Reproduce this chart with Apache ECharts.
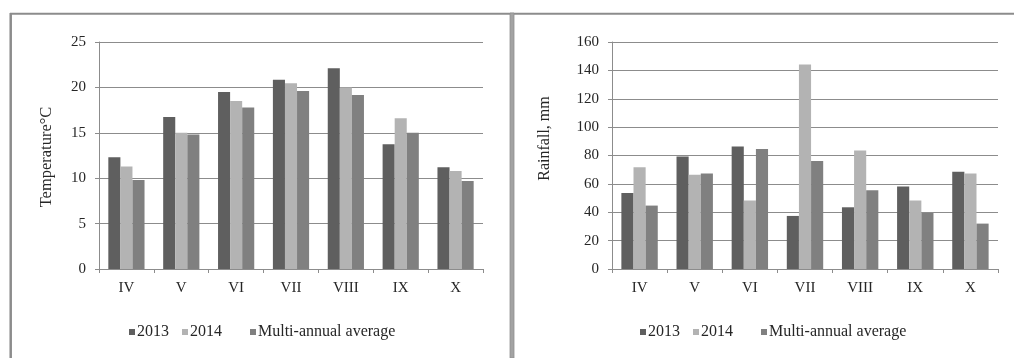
<!DOCTYPE html>
<html>
<head>
<meta charset="utf-8">
<title>Temperature and rainfall, IV–X</title>
<script src="https://cdn.jsdelivr.net/npm/echarts@6/dist/echarts.min.js"></script>
<style>
  html, body { margin: 0; padding: 0; background: #ffffff; }
  #chart { width: 1014px; height: 358px; }
</style>
</head>
<body>
<div id="chart"></div>
<script>
// Months of the growing season
const months = ['IV', 'V', 'VI', 'VII', 'VIII', 'IX', 'X'];

// Mean air temperature, °C
const temp2013 = [12.3, 16.75, 19.5, 20.85, 22.1, 13.75, 11.2];
const temp2014 = [11.3, 15.0, 18.5, 20.45, 20.0, 16.6, 10.8];
const tempAvg  = [9.8, 14.8, 17.8, 19.6, 19.15, 15.0, 9.7];

// Monthly rainfall, mm
const rain2013 = [53.6, 79.3, 86.4, 37.4, 43.5, 58.1, 68.5];
const rain2014 = [71.8, 66.4, 48.2, 144.2, 83.5, 48.2, 67.3];
const rainAvg  = [44.7, 67.3, 84.5, 76.2, 55.5, 39.5, 32.0];

// Value-axis tick labels
const tempTicks = [0, 5, 10, 15, 20, 25];
const rainTicks = [0, 20, 40, 60, 80, 100, 120, 140, 160];

const seriesNames = ['2013', '2014', 'Multi-annual average'];
const seriesColors = ['#5f5f5f', '#b3b3b3', '#808080'];

const FONT = '"Liberation Serif", "Times New Roman", serif';
const TEXT = '#262626';
const LINE = '#8c8c8c';

function valueAxis(gridIndex, ticks) {
  return {
    type: 'value',
    gridIndex: gridIndex,
    min: ticks[0],
    max: ticks[ticks.length - 1],
    interval: ticks[1] - ticks[0],
    axisLine: { show: true, lineStyle: { color: LINE, width: 1 } },
    axisTick: { show: true, length: 4, lineStyle: { color: LINE } },
    splitLine: { show: true, lineStyle: { color: LINE, width: 1 } },
    axisLabel: { color: TEXT, fontFamily: FONT, fontSize: 15, margin: 13 }
  };
}

function categoryAxis(gridIndex) {
  return {
    type: 'category',
    gridIndex: gridIndex,
    data: months,
    axisLine: { show: true, lineStyle: { color: LINE, width: 1 } },
    axisTick: { show: true, length: 4, alignWithLabel: false, lineStyle: { color: LINE } },
    axisLabel: { color: TEXT, fontFamily: FONT, fontSize: 15, margin: 12 }
  };
}

function barSeries(name, data, idx, axisIdx) {
  return {
    type: 'bar',
    name: name,
    data: data,
    xAxisIndex: axisIdx,
    yAxisIndex: axisIdx,
    barGap: '0%',
    barCategoryGap: '34%',
    itemStyle: { color: seriesColors[idx] },
    silent: true
  };
}

// One legend entry per component, spaced like the original layout
function legendItem(name, left) {
  return {
    data: [name],
    left: left,
    top: 324,
    icon: 'rect',
    itemWidth: 6,
    itemHeight: 6,
    itemGap: 0,
    padding: 0,
    selectedMode: false,
    textStyle: { color: TEXT, fontFamily: FONT, fontSize: 16, padding: [0, 0, 0, -3] }
  };
}

const legendOffsets = [0, 53, 121];
const legends = [];
[129, 640].forEach(function (start) {
  seriesNames.forEach(function (n, i) {
    legends.push(legendItem(n, start + legendOffsets[i]));
  });
});

const option = {
  animation: false,
  backgroundColor: '#ffffff',
  grid: [
    { left: 99, top: 42, width: 384, height: 227 },
    { left: 612, top: 42, width: 386, height: 227 }
  ],
  xAxis: [categoryAxis(0), categoryAxis(1)],
  yAxis: [valueAxis(0, tempTicks), valueAxis(1, rainTicks)],
  legend: legends,
  series: [
    barSeries(seriesNames[0], temp2013, 0, 0),
    barSeries(seriesNames[1], temp2014, 1, 0),
    barSeries(seriesNames[2], tempAvg, 2, 0),
    barSeries(seriesNames[0], rain2013, 0, 1),
    barSeries(seriesNames[1], rain2014, 1, 1),
    barSeries(seriesNames[2], rainAvg, 2, 1)
  ],
  graphic: [
    // panel frame
    { type: 'line', silent: true, shape: { x1: 10, y1: 13.7, x2: 1014, y2: 13.7 },
      style: { stroke: LINE, lineWidth: 2 } },
    { type: 'line', silent: true, shape: { x1: 10.7, y1: 13, x2: 10.7, y2: 358 },
      style: { stroke: LINE, lineWidth: 2.5 } },
    { type: 'rect', silent: true, shape: { x: 510, y: 13, width: 4, height: 345 },
      style: { fill: '#a3a3a3', stroke: '#8f8f8f', lineWidth: 0.8 } },
    // value-axis titles
    { type: 'text', silent: true, x: 47, y: 157, rotation: Math.PI / 2,
      style: { text: 'Temperature°C', font: '16.5px ' + FONT, fill: TEXT,
               align: 'center', verticalAlign: 'middle' } },
    { type: 'text', silent: true, x: 545, y: 138.5, rotation: Math.PI / 2,
      style: { text: 'Rainfall, mm', font: '16px ' + FONT, fill: TEXT,
               align: 'center', verticalAlign: 'middle' } }
  ]
};

const chart = echarts.init(document.getElementById('chart'), null, { renderer: 'canvas' });
chart.setOption(option);
</script>
</body>
</html>
